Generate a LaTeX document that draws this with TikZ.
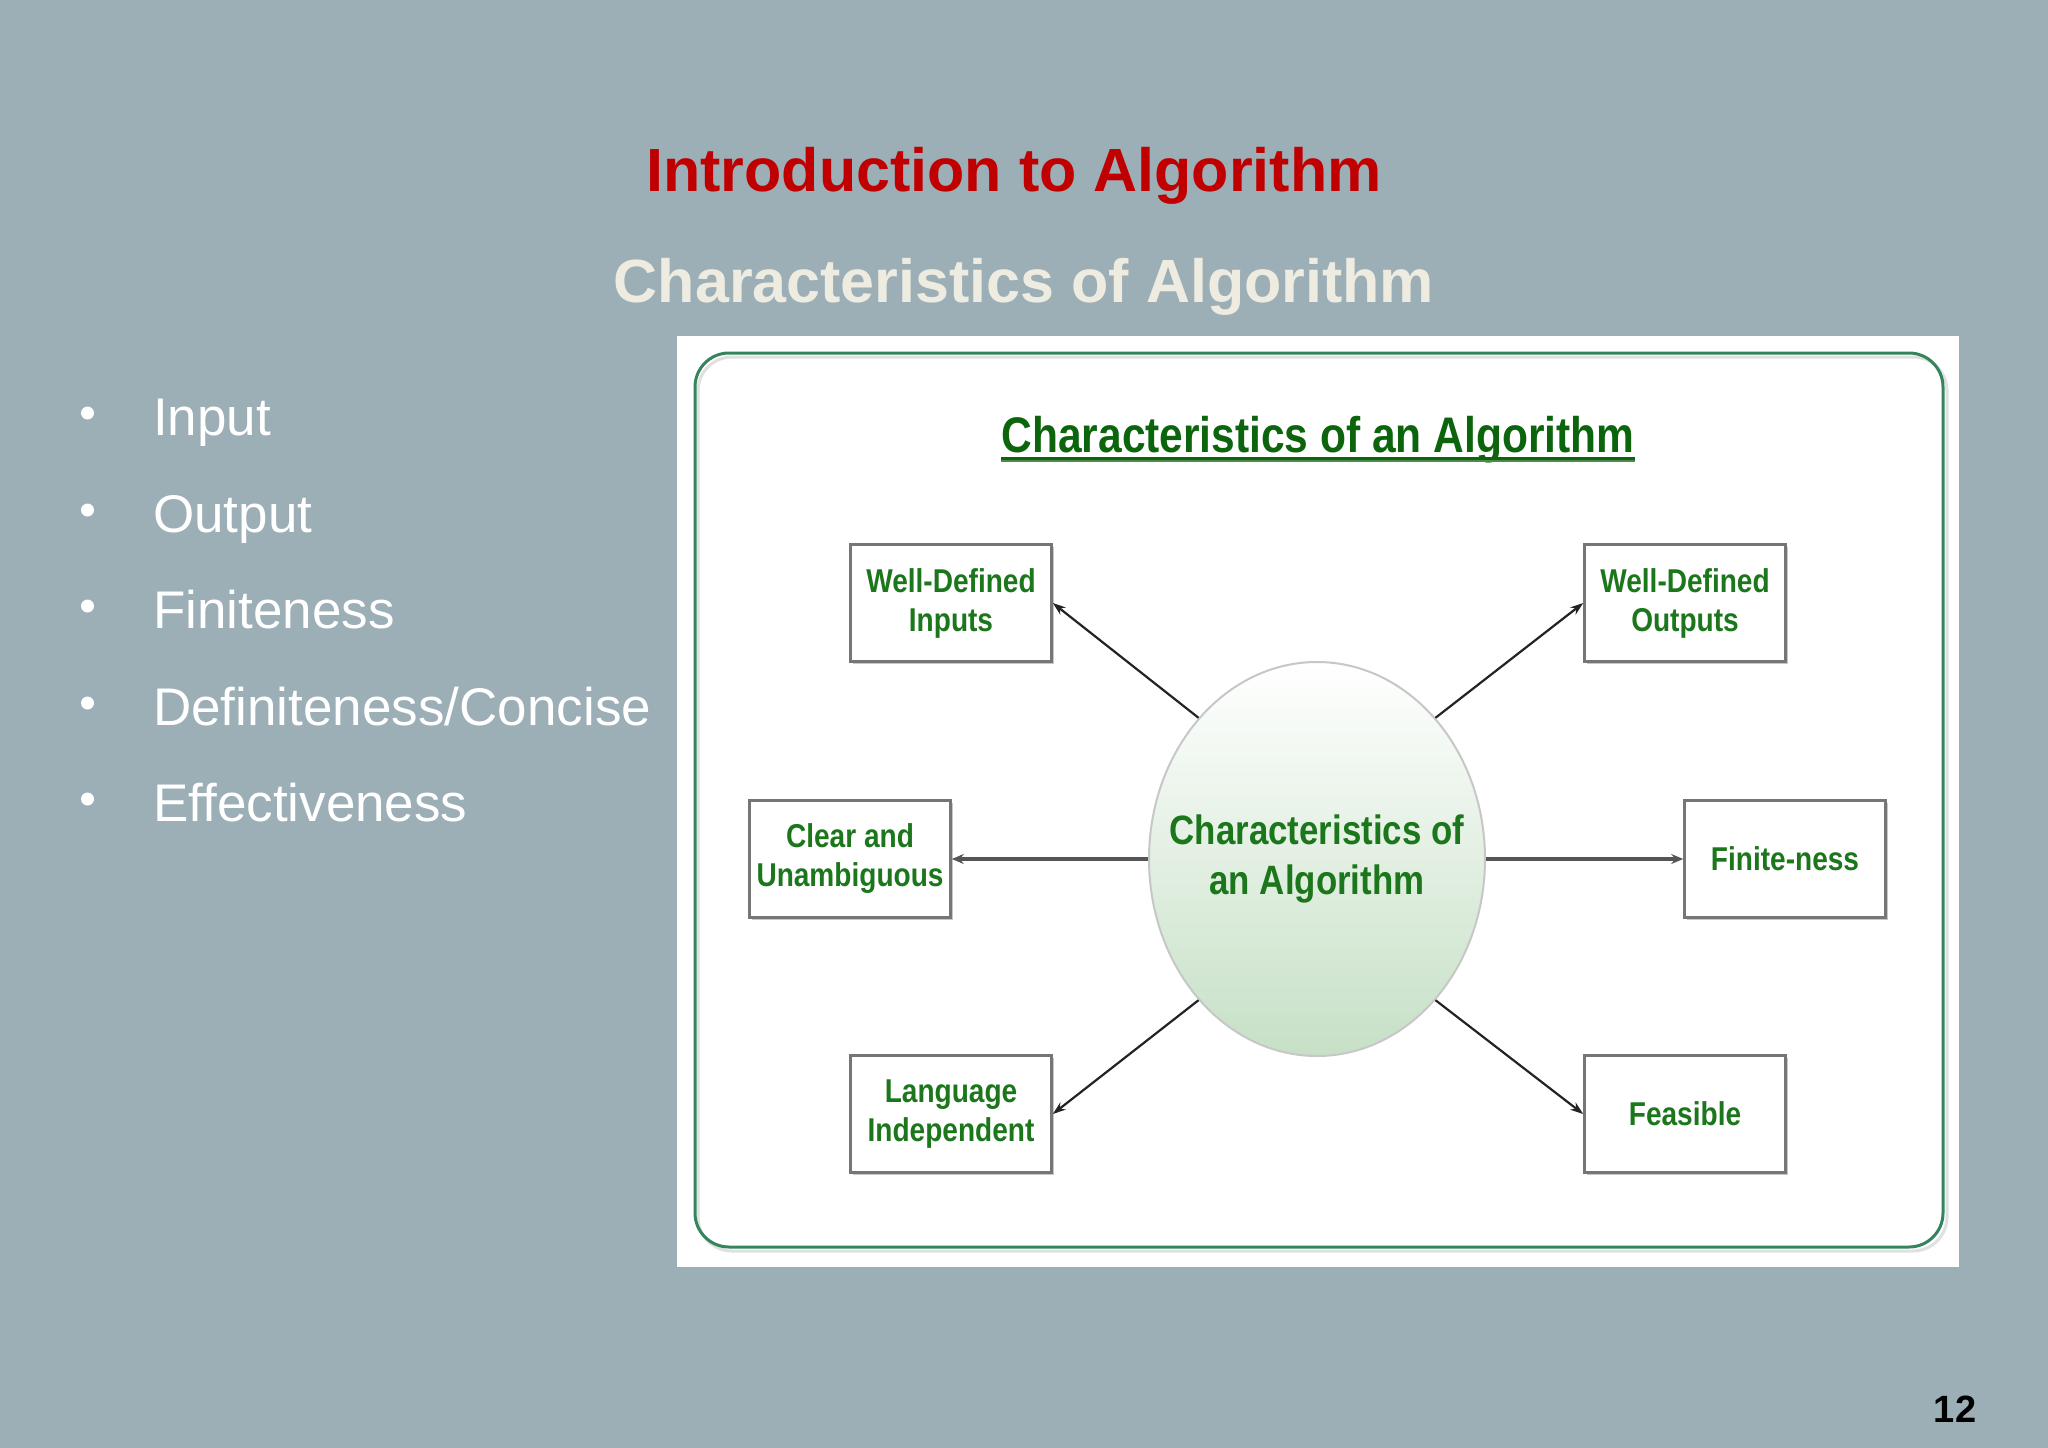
\documentclass[tikz,border=0pt]{standalone}
\usepackage{fontspec}
\setmainfont{Liberation Sans}
\newfontfamily\condfont[FakeStretch=0.85]{Liberation Sans}
\usetikzlibrary{shapes.geometric,arrows.meta,shadows,calc}
\definecolor{bg}{RGB}{156,174,182}
\definecolor{titlered}{RGB}{192,0,0}
\definecolor{cream}{RGB}{238,236,225}
\definecolor{headgreen}{RGB}{12,100,12}
\definecolor{boxgreen}{RGB}{28,118,28}
\definecolor{framegreen}{RGB}{52,132,92}
\definecolor{boxgrey}{RGB}{118,118,118}
\definecolor{ellfill}{RGB}{198,224,198}
\tikzset{
  bullettext/.style={anchor=base west, text=white, font=\fontsize{53}{64}\selectfont, inner sep=0},
  bulletdot/.style={circle, fill=white, minimum size=13, inner sep=0},
  cbox/.style={draw=boxgrey, line width=2.6, fill=white, minimum width=201, minimum height=117,
    text=boxgreen, font=\condfont\bfseries\fontsize{33}{39}\selectfont, align=center, inner sep=0,
    drop shadow={shadow xshift=2pt, shadow yshift=-2pt, fill=black!22, opacity=1}},
  diag/.style={draw={rgb,255:red,35;green,35;blue,35}, line width=2.2, -{Stealth[length=13pt,width=9pt]}},
  horiz/.style={draw={rgb,255:red,85;green,85;blue,85}, line width=4, -{Stealth[length=12pt,width=10pt,fill=black]}}
}
\begin{document}
\begin{tikzpicture}[x=1pt,y=-1pt]
\useasboundingbox[fill=bg] (0,0) rectangle (2048,1448);

% titles
\node[anchor=base, text=titlered, font=\bfseries\fontsize{61}{73}\selectfont, inner sep=0] (title) at (1014,191) {Introduction to Algorithm};
\node[anchor=base, text=cream, font=\bfseries\fontsize{61}{73}\selectfont, inner sep=0] (subtitle) at (1024,302) {Characteristics of Algorithm};

% bullets
\node[bulletdot] (b1) at (87.5,413) {};
\node[bullettext] (t1) at (153,435) {Input};
\node[bulletdot] (b2) at (87.5,510) {};
\node[bullettext] (t2) at (153,532) {Output};
\node[bulletdot] (b3) at (87.5,606) {};
\node[bullettext] (t3) at (153,628) {Finiteness};
\node[bulletdot] (b4) at (87.5,703) {};
\node[bullettext] (t4) at (153,725) {Definiteness/Concise};
\node[bulletdot] (b5) at (87.5,799) {};
\node[bullettext] (t5) at (153,821) {Effectiveness};

% panel
\node[fill=white, minimum width=1282, minimum height=931, inner sep=0] (panel) at (1318,801.5) {};
\draw[black!12, line width=3, rounded corners=34] (698,357) rectangle (1947,1251);
\draw[framegreen, line width=3, rounded corners=34] (695,353) rectangle (1943,1247);

% heading
\node[anchor=base, text=headgreen, font=\condfont\bfseries\fontsize{50}{60}\selectfont, inner sep=0] (head) at (1318,452) {Characteristics of an Algorithm};
\draw[green!35!black!70!white, line width=2] ([yshift=-9pt]head.base west) -- ([yshift=-9pt]head.base east);
\draw[headgreen, line width=3] ([yshift=-6pt]head.base west) -- ([yshift=-6pt]head.base east);

% centre ellipse
\node[ellipse, minimum width=336, minimum height=394, inner sep=0, top color=white, bottom color=ellfill,
  draw=black!22, line width=2] (c) at (1317,859) {};
\node[text=boxgreen, font=\condfont\bfseries\fontsize{41}{50}\selectfont, align=center, inner sep=0] (ctext) at (c.center)
  {Characteristics of\\an Algorithm};

% boxes
\node[cbox] (wdi) at (951,603) {Well-Defined\\Inputs};
\node[cbox] (wdo) at (1685,603) {Well-Defined\\Outputs};
\node[cbox] (cu) at (850,859) {Clear and\\Unambiguous};
\node[cbox] (fin) at (1785,859) {Finite-ness};
\node[cbox] (li) at (951,1114) {Language\\Independent};
\node[cbox] (fe) at (1685,1114) {Feasible};

% connectors
\draw[diag] (c.130) -- (wdi.east);
\draw[diag] (c.50) -- (wdo.west);
\draw[horiz] (c.180) -- (cu.east);
\draw[horiz] (c.0) -- (fin.west);
\draw[diag] (c.230) -- (li.east);
\draw[diag] (c.310) -- (fe.west);

% page number
\node[anchor=base, font=\bfseries\fontsize{38}{46}\selectfont, text=black, inner sep=0] (pnum) at (1955,1422) {12};
\end{tikzpicture}
\end{document}
